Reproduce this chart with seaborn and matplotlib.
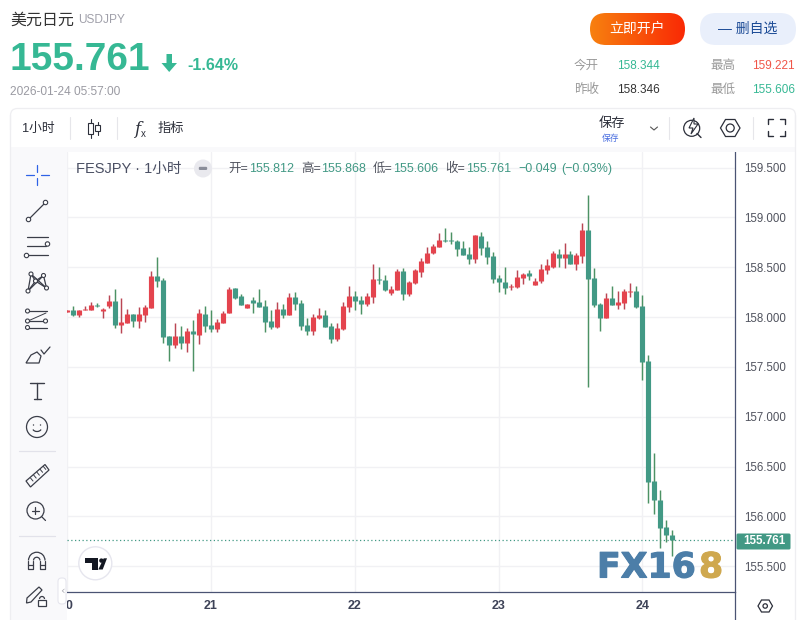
import numpy as np
import pandas as pd
import seaborn as sns
import matplotlib.pyplot as plt
import matplotlib.patheffects as pe
from matplotlib.colors import LinearSegmentedColormap
from matplotlib.patches import Arc, Circle, FancyBboxPatch, Polygon, Rectangle

# hourly candles (first bar = day 20 00:00)
opens = [158.05, 158.07, 158.02, 158.07, 158.07, 158.12, 158.06, 158.11, 158.16, 157.92,
         157.94, 158.03, 157.96, 158.02, 158.09, 158.41, 158.37, 157.81, 157.72, 157.81,
         157.74, 157.86, 157.82, 158.03, 157.92, 157.88, 157.94, 158.04, 158.29, 158.21,
         158.09, 158.17, 158.15, 158.11, 157.96, 157.90, 158.08, 158.02, 158.20, 158.14,
         157.92, 157.86, 157.99, 158.02, 157.91, 157.78, 157.88, 158.10, 158.21, 158.17,
         158.13, 158.20, 158.38, 158.37, 158.24, 158.27, 158.46, 158.23, 158.34, 158.45,
         158.54, 158.64, 158.70, 158.77, 158.77, 158.76, 158.69, 158.63, 158.58, 158.81,
         158.70, 158.61, 158.39, 158.35, 158.30, 158.30, 158.39, 158.44, 158.32, 158.36,
         158.47, 158.50, 158.63, 158.59, 158.63, 158.53, 158.61, 158.87, 158.39, 158.13,
         157.99, 158.19, 158.12, 158.14, 158.25, 158.26, 158.11, 157.56, 156.36, 156.17,
         155.89, 155.812]
closes = [158.07, 158.02, 158.07, 158.08, 158.12, 158.11, 158.08, 158.16, 157.92, 157.95,
          158.03, 157.96, 158.03, 158.10, 158.41, 158.36, 157.80, 157.72, 157.81, 157.74,
          157.86, 157.83, 158.04, 157.91, 157.88, 157.95, 158.04, 158.28, 158.19, 158.12,
          158.13, 158.14, 158.10, 157.95, 157.90, 158.08, 158.02, 158.20, 158.13, 157.91,
          157.86, 158.00, 158.02, 157.90, 157.78, 157.89, 158.11, 158.21, 158.16, 158.13,
          158.21, 158.38, 158.37, 158.27, 158.28, 158.46, 158.23, 158.35, 158.47, 158.56,
          158.64, 158.71, 158.77, 158.76, 158.76, 158.68, 158.62, 158.58, 158.82, 158.69,
          158.60, 158.38, 158.35, 158.29, 158.31, 158.40, 158.43, 158.41, 158.36, 158.48,
          158.52, 158.64, 158.59, 158.63, 158.53, 158.62, 158.87, 158.38, 158.12, 157.99,
          158.19, 158.12, 158.15, 158.26, 158.26, 158.10, 157.55, 156.35, 156.16, 155.88,
          155.81, 155.761]
highs = [158.07, 158.11, 158.07, 158.11, 158.15, 158.14, 158.09, 158.22, 158.28, 158.19,
         158.08, 158.03, 158.10, 158.12, 158.46, 158.60, 158.39, 157.81, 157.94, 157.91,
         157.89, 157.97, 158.08, 158.11, 158.07, 157.98, 158.06, 158.30, 158.29, 158.23,
         158.13, 158.20, 158.28, 158.17, 158.07, 158.15, 158.13, 158.24, 158.25, 158.17,
         157.99, 158.03, 158.09, 158.07, 157.94, 157.94, 158.15, 158.31, 158.26, 158.21,
         158.24, 158.53, 158.50, 158.42, 158.31, 158.48, 158.49, 158.36, 158.48, 158.59,
         158.70, 158.73, 158.84, 158.89, 158.85, 158.77, 158.76, 158.70, 158.82, 158.85,
         158.76, 158.65, 158.42, 158.50, 158.33, 158.47, 158.44, 158.47, 158.39, 158.53,
         158.58, 158.66, 158.68, 158.74, 158.66, 158.64, 158.94, 159.221, 158.49, 158.14,
         158.24, 158.31, 158.26, 158.28, 158.34, 158.31, 158.22, 157.62, 156.64, 156.27,
         155.96, 155.868]
lows = [158.05, 158.01, 158.00, 158.07, 158.07, 158.10, 157.99, 158.09, 157.89, 157.84,
        157.94, 157.90, 157.89, 157.95, 158.09, 158.30, 157.74, 157.56, 157.69, 157.68,
        157.65, 157.46, 157.73, 157.85, 157.85, 157.85, 157.94, 158.04, 158.18, 158.12,
        158.09, 158.04, 158.10, 157.85, 157.88, 157.89, 157.99, 158.02, 158.07, 157.87,
        157.82, 157.82, 157.98, 157.90, 157.74, 157.76, 157.87, 158.05, 158.07, 158.03,
        158.11, 158.14, 158.33, 158.26, 158.22, 158.27, 158.17, 158.21, 158.33, 158.40,
        158.54, 158.63, 158.70, 158.75, 158.73, 158.61, 158.62, 158.53, 158.54, 158.62,
        158.53, 158.34, 158.25, 158.23, 158.27, 158.29, 158.33, 158.37, 158.32, 158.34,
        158.43, 158.49, 158.50, 158.49, 158.53, 158.47, 158.54, 157.30, 158.10, 157.86,
        157.99, 158.12, 158.08, 158.08, 158.20, 158.09, 157.37, 156.13, 156.02, 155.68,
        155.74, 155.606]

price_ticks = [155.5, 156.0, 156.5, 157.0, 157.5, 158.0, 158.5, 159.0, 159.5]
day_ticks = [0, 24, 48, 72, 96]
day_labels = ["20", "21", "22", "23", "24"]
last_price = 155.761

GREEN = "#429985"
RED = "#e4444e"
WICK = {"up": "#ba4654", "down": "#4c9264"}
BODY = {"up": RED, "down": GREEN}
INK = "#2c2f3a"
ICON = "#3a3d48"
TEAL = "#36b894"

df = pd.DataFrame({"bar": range(len(opens)), "open": opens, "close": closes, "high": highs, "low": lows})
df["side"] = np.where(df["close"] >= df["open"], "up", "down")
wicks = df.melt(id_vars=["bar", "side"], value_vars=["high", "low"], value_name="price")
bodies = df.melt(id_vars=["bar", "side"], value_vars=["open", "close"], value_name="price")

sns.set_theme(style="white")
plt.rcParams["font.family"] = ["Liberation Sans", "Noto Sans CJK SC", "DejaVu Sans"]

W, H = 804, 620
fig = plt.figure(figsize=(W / 100, H / 100), dpi=100, facecolor="white")

# Chart area
ax = fig.add_axes([67 / W, (H - 592) / H, (735 - 67) / W, (592 - 152) / H])
sns.lineplot(data=wicks, x="bar", y="price", units="bar", estimator=None, hue="side", palette=WICK,
             linewidth=1.05, sort=False, legend=False, ax=ax, solid_capstyle="butt")
sns.lineplot(data=bodies, x="bar", y="price", units="bar", estimator=None, hue="side", palette=BODY,
             linewidth=3.7, sort=False, legend=False, ax=ax, solid_capstyle="butt")
ax.axhline(last_price, color=GREEN, lw=0.9, ls=(0, (1, 2)), zorder=1)

ax.set_xlim((67 - 66.33) / 6, (735 - 66.33) / 6)
ax.set_ylim(155.5 - (592 - 566.3) / 99.7, 159.5 + (167.5 - 152) / 99.7)
ax.set_xlabel("")
ax.set_ylabel("")
ax.set_xticks(day_ticks, day_labels)
ax.set_yticks(price_ticks, [f"{p:.3f}" for p in price_ticks])
ax.yaxis.tick_right()
ax.tick_params(axis="y", length=0, pad=6.5, labelsize=8.3, labelcolor="#50535e")
ax.tick_params(axis="x", length=0, pad=6, labelsize=9, labelcolor="#3d4257")
for lab in ax.get_xticklabels():
    lab.set_fontweight("bold")
ax.grid(True, color="#f1f1f4", lw=1)
ax.set_axisbelow(True)
sns.despine(ax=ax, top=True, left=True, right=False, bottom=False)
ax.spines["right"].set_color("#4a5373")
ax.spines["bottom"].set_color("#4a5373")
ax.spines["right"].set_linewidth(0.9)
ax.spines["bottom"].set_linewidth(0.9)

# Page furniture, drawn in pixel coordinates on top of the chart
ui = fig.add_axes([0, 0, 1, 1], zorder=5)
ui.set_xlim(0, W)
ui.set_ylim(H, 0)
ui.axis("off")
ui.patch.set_alpha(0)


def txt(x, y, s, size=9, color=INK, ha="left", va="center", **kw):
    return ui.text(x, y, s, fontsize=size, color=color, ha=ha, va=va, **kw)


def seg(xs, ys, color=ICON, lw=0.9):
    ui.plot(xs, ys, color=color, lw=lw, solid_capstyle="round")


def dot(x, y, r=2.2, color=ICON, lw=0.8):
    ui.add_patch(Circle((x, y), r, fc="white", ec=color, lw=lw, zorder=4))


def pill(x0, y0, x1, y1, r, **kw):
    box = FancyBboxPatch((x0 + r, y0 + r), x1 - x0 - 2 * r, y1 - y0 - 2 * r,
                         boxstyle=f"round,pad={r},rounding_size={r}", **kw)
    ui.add_patch(box)
    return box


# Left toolbar and strip above the chart
ui.add_patch(Rectangle((10.5, 147), 56.5, 473, fc="#f9f9fb", ec="none", zorder=0))
ui.add_patch(Rectangle((10.5, 147), 785, 5, fc="#f9f9fb", ec="none", zorder=0))
frame = pill(10.5, 108.5, 795.5, 200, 7, fc="none", ec="#eeeef1", lw=0.9, zorder=0)
frame.set_clip_path(Rectangle((0, 100), W, 30, transform=ui.transData))
seg([10.5, 10.5], [115, 620], "#eeeef1")
seg([795.5, 795.5], [115, 620], "#eeeef1")
seg([735, 735], [592, 620], "#4a5373")

# Header
txt(10, 20, "美元日元", 11.5, "#333333")
txt(78, 20, "USDJPY", 8.6, "#a0a0aa")
txt(10, 69.5, "155.761", 28, TEAL, va="baseline", fontweight="bold")
ui.add_patch(Polygon([(166.5, 54), (172, 54), (172, 63), (177, 63), (169.2, 72), (161.5, 63), (166.5, 63)],
                     fc=TEAL, ec="none"))
txt(187, 70, "-1.64%", 11.5, TEAL, va="baseline", fontweight="bold")
txt(10, 95, "2026-01-24 05:57:00", 8.6, "#9a9aa2", va="baseline")

grad = LinearSegmentedColormap.from_list("btn", ["#f7800f", "#fa2a05"])
im = ui.imshow(np.linspace(0, 1, 64).reshape(1, -1), cmap=grad, extent=(590, 685, 45, 13), aspect="auto", zorder=1)
im.set_clip_path(pill(590, 13, 685, 45, 16, fc="none", ec="none"))
ui.set_xlim(0, W)
ui.set_ylim(H, 0)
txt(637.5, 29, "立即开户", 10, "white", ha="center", zorder=3)
pill(700, 13, 796, 45, 16, fc="#e9effb", ec="none")
txt(748, 29, "— 删自选", 10, "#1c4b96", ha="center")

txt(574, 66, "今开", 9, "#999999")
txt(617, 66, "158.344", 8.5, TEAL)
txt(710, 66, "最高", 9, "#999999")
txt(752, 66, "159.221", 8.5, "#f05548")
txt(574, 90, "昨收", 9, "#999999")
txt(617, 90, "158.346", 8.5, "#333333")
txt(710, 90, "最低", 9, "#999999")
txt(752, 90, "155.606", 8.5, TEAL)

# Top toolbar
txt(22, 129, "1小时", 9.2, INK)
for sx in [70.5, 117.5, 669, 753.5]:
    seg([sx, sx], [117, 139], "#e6e6ea", 0.8)
for cx, y0, y1, w0, w1 in [(91, 119, 138, 123, 134), (98, 122, 135, 125, 131)]:
    seg([cx, cx], [y0, y1], INK, 0.8)
    ui.add_patch(Rectangle((cx - 2.5, w0), 5, w1 - w0, fc="white", ec=INK, lw=0.8, zorder=3))
txt(134, 129, "f", 12, INK, style="italic", family=["DejaVu Serif"])
txt(141, 134, "x", 7, INK)
txt(158, 129, "指标", 9.5, INK)
txt(611.5, 124, "保存", 9.5, INK, ha="center")
txt(611, 138, "保存", 6.3, "#4a6fe0", ha="center")
seg([650.5, 654, 657.5], [127, 130, 127], "#555555", 0.8)
ui.add_patch(Circle((691.7, 128.3), 8, fc="none", ec=INK, lw=0.9))
ui.add_patch(Polygon([(694, 118), (689, 128), (693, 128), (691, 134), (698, 124), (694, 124)], fc="white", ec=INK, lw=0.8, zorder=3))
seg([697, 701], [133.5, 137.5], INK, 1.0)
ui.add_patch(Polygon([(720.5, 128), (725.5, 119.5), (735, 119.5), (740, 128), (735, 136.5), (725.5, 136.5)], fc="none", ec=INK, lw=0.9))
ui.add_patch(Circle((730.2, 128), 4, fc="none", ec=INK, lw=0.9))
for sx, sy in [(768, 119), (785, 119), (768, 136), (785, 136)]:
    dx = 5 if sx < 776 else -5
    dy = 5 if sy < 128 else -5
    seg([sx + dx, sx, sx], [sy, sy, sy + dy], INK, 1.0)

# Chart legend line
txt(76, 168.5, "FESJPY · 1小时", 10.5, "#4a4f63")
ui.add_patch(Circle((203, 168.5), 9, fc="#e9e9ee", ec="none"))
ui.add_patch(FancyBboxPatch((199, 167), 8, 2.8, boxstyle="round,pad=0.2,rounding_size=1.2", fc="#8a8d99", ec="none", zorder=3))
for tx, s, col in [(228, "开=", "#50535e"), (249, "155.812", GREEN), (301, "高=", "#50535e"), (321, "155.868", GREEN),
                   (373, "低=", "#50535e"), (393, "155.606", GREEN), (445, "收=", "#50535e"), (466, "155.761", GREEN),
                   (518, "−0.049", GREEN), (561, "(−0.03%)", GREEN)]:
    txt(tx, 169, s, 9, col)

# Last price tag on the axis
ui.add_patch(FancyBboxPatch((737, 534), 53, 15, boxstyle="round,pad=0.5,rounding_size=1.5", fc=GREEN, ec="none"))
txt(764, 541, "155.761", 8.4, "white", ha="center", fontweight="bold")

# Watermark and TV badge
wm = pe.withStroke(linewidth=0.8, foreground="#4c7ea8")
gold = pe.withStroke(linewidth=0.8, foreground="#cfa84e")
txt(597, 577.5, "FX16", 25, "#4c7ea8", va="baseline", family=["DejaVu Sans"], fontweight="bold", path_effects=[wm])
txt(699, 577.5, "8", 25, "#cfa84e", va="baseline", family=["DejaVu Sans"], fontweight="bold", path_effects=[gold])
ui.add_patch(Circle((95.3, 563.3), 16.5, fc="white", ec="#e6e6ee", lw=1))
ui.add_patch(Polygon([(85, 558.3), (98.3, 558.3), (98.3, 569.5), (91.7, 569.5), (91.7, 563.3), (85, 563.3)], fc="#131722", ec="none", zorder=3))
ui.add_patch(Circle((101.4, 560.6), 2.2, fc="#131722", ec="none", zorder=3))
ui.add_patch(Polygon([(103.7, 558.3), (107, 558.3), (102.7, 569.5), (98.3, 569.5)], fc="#131722", ec="none", zorder=3))

# Settings hexagon at the axis corner
ui.add_patch(Polygon([(758, 606), (761.5, 600), (769, 600), (772.5, 606), (769, 612), (761.5, 612)], fc="none", ec=INK, lw=0.9))
ui.add_patch(Circle((765.2, 606), 2.2, fc="none", ec=INK, lw=0.9))

# Left drawing tools
seg([37.5, 37.5], [165, 172], "#2f62e6")
seg([37.5, 37.5], [178, 185], "#2f62e6")
seg([26, 34], [175, 175], "#2f62e6")
seg([41, 49], [175, 175], "#2f62e6")

seg([28.5, 45.5], [219.5, 202.5])
dot(28.5, 219.5)
dot(45.5, 202.5)

for ly, x0, x1 in [(237, 27, 48), (246, 27, 46), (255, 28, 48)]:
    seg([x0, x1], [ly, ly])
dot(47.5, 244)
dot(26.5, 255.5)

net = [(31, 274), (43.5, 275.5), (28, 291), (46.5, 288), (35.5, 281)]
for a, b in [(0, 2), (0, 4), (2, 4), (1, 4), (1, 3), (4, 3), (0, 3), (1, 2)]:
    seg([net[a][0], net[b][0]], [net[a][1], net[b][1]])
for nx, ny in net:
    dot(nx, ny, 2)

for ly in [311, 321, 327.5]:
    seg([27, 47], [ly, ly])
seg([28, 46], [321, 313], ICON, 0.7)
for nx, ny in [(27.5, 311), (27.5, 321), (45.5, 321), (27.5, 327.5)]:
    dot(nx, ny, 2)

ui.add_patch(Polygon([(26, 363), (39, 363), (41, 356), (37, 352), (31, 355)], fc="none", ec=ICON, lw=0.9))
seg([41, 44, 50], [350, 354, 347])

seg([30, 44.5], [383, 383], ICON, 1.0)
seg([37.5, 37.5], [383, 399], ICON, 1.0)
seg([34, 41], [399, 399], ICON, 1.0)

ui.add_patch(Circle((37, 427), 10.5, fc="none", ec=ICON, lw=0.9))
ui.add_patch(Circle((33.5, 425), 0.7, fc=ICON, ec="none"))
ui.add_patch(Circle((40.5, 425), 0.7, fc=ICON, ec="none"))
ui.add_patch(Arc((37, 428), 9, 7, theta1=20, theta2=160, color=ICON, lw=0.9))

seg([19, 55], [451, 451], "#e2e2ea", 0.9)
seg([19, 55], [536, 536], "#e2e2ea", 0.9)

ui.add_patch(Polygon([(26, 481), (45, 464.5), (49, 470), (30.5, 487)], fc="none", ec=ICON, lw=0.9))
for k in range(5):
    seg([30.5 + 3.2 * k, 33 + 3.2 * k], [478 - 2.9 * k, 481 - 2.9 * k], ICON, 0.7)

ui.add_patch(Circle((35.5, 510.5), 8.5, fc="none", ec=ICON, lw=0.9))
seg([41.5, 45.5], [516.5, 520.5])
seg([32, 39], [510.5, 510.5])
seg([35.5, 35.5], [507, 514])

# magnet
seg([28.5, 28.5, 33.5, 33.5], [560.5, 569, 569, 560.5], ICON, 0.9)
seg([40, 40, 45, 45], [560.5, 569, 569, 560.5], ICON, 0.9)
seg([28.5, 33.5], [565, 565], ICON, 0.9)
seg([40, 45], [565, 565], ICON, 0.9)
ui.add_patch(Arc((36.75, 560.5), 16.5, 16.5, theta1=180, theta2=360, color=ICON, lw=0.9))
ui.add_patch(Arc((36.75, 560.5), 6.5, 6.5, theta1=180, theta2=360, color=ICON, lw=0.9))

ui.add_patch(Polygon([(27, 598), (39, 587), (42, 590), (31, 602), (26.5, 603)], fc="none", ec=ICON, lw=0.9))
ui.add_patch(Rectangle((38.5, 600), 7.5, 6, fc="white", ec=ICON, lw=0.9, zorder=4))
ui.add_patch(Arc((42, 599), 5, 5, theta1=180, theta2=360, color=ICON, lw=0.9))

pill(58, 578, 66, 604, 3.5, fc="white", ec="#e6e6ee", lw=0.8)
txt(62, 591, "‹", 8, "#b0b0b8", ha="center", family=["DejaVu Sans"])

fig.savefig("out.png", dpi=100)
plt.close(fig)
print("saved out.png")
